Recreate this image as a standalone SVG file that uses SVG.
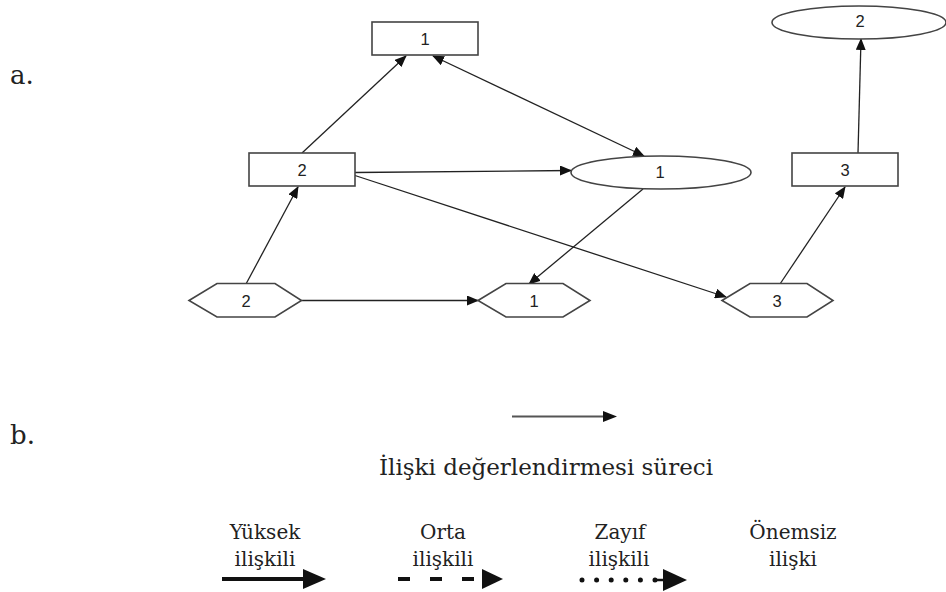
<svg xmlns="http://www.w3.org/2000/svg" width="946" height="592" viewBox="0 0 946 592">
<style>
.nd{fill:#fff;stroke:#444;stroke-width:1.6}
.nt{font-family:"Liberation Sans",Arial,sans-serif;font-size:16.5px;fill:#222;text-anchor:middle;dominant-baseline:central}
.ed{stroke:#222;stroke-width:1.3;fill:none}
.sf{font-family:"DejaVu Serif","Liberation Serif",serif;fill:#222}
.lg{font-size:20px;text-anchor:middle}
</style>
<defs>
<marker id="ah" markerUnits="userSpaceOnUse" markerWidth="12" markerHeight="10" refX="11" refY="5" orient="auto-start-reverse">
<path d="M0,0 L12,5 L0,10 z" fill="#111"/>
</marker>
</defs>
<rect width="946" height="592" fill="#fff"/>
<text class="sf" x="10" y="84" font-size="26">a.</text>
<text class="sf" x="10" y="444" font-size="26">b.</text>
<g id="connectors">
<line class="ed" x1="246" y1="284" x2="298" y2="187" marker-end="url(#ah)"/>
<line class="ed" x1="302" y1="153" x2="406" y2="56" marker-end="url(#ah)"/>
<line class="ed" x1="433" y1="56" x2="644" y2="156" marker-start="url(#ah)" marker-end="url(#ah)"/>
<line class="ed" x1="355" y1="172.5" x2="571" y2="170.5" marker-end="url(#ah)"/>
<line class="ed" x1="355" y1="175.5" x2="726" y2="297" marker-end="url(#ah)"/>
<line class="ed" x1="643" y1="189" x2="529" y2="284" marker-end="url(#ah)"/>
<line class="ed" x1="301.5" y1="300.5" x2="478" y2="300.5" marker-end="url(#ah)"/>
<line class="ed" x1="780" y1="284" x2="845" y2="187" marker-end="url(#ah)"/>
<line class="ed" x1="858" y1="153" x2="861" y2="39" marker-end="url(#ah)"/>
</g>
<g id="rect-1"><rect class="nd" x="372" y="22" width="106" height="33"/><text class="nt" x="425" y="38.5">1</text></g>
<g id="rect-2"><rect class="nd" x="249" y="153" width="106" height="33"/><text class="nt" x="302" y="169.5">2</text></g>
<g id="rect-3"><rect class="nd" x="792" y="153" width="106" height="33"/><text class="nt" x="845" y="169.5">3</text></g>
<g id="ellipse-1"><ellipse class="nd" cx="661" cy="172.5" rx="90" ry="16.5"/><text class="nt" x="660" y="172">1</text></g>
<g id="ellipse-2"><ellipse class="nd" cx="859" cy="22.5" rx="87" ry="16.5"/><text class="nt" x="860" y="21">2</text></g>
<g id="hex-2"><polygon class="nd" points="189,300.5 217,283.5 275,283.5 301.5,300.5 275,317 217,317"/><text class="nt" x="246" y="300.5">2</text></g>
<g id="hex-1"><polygon class="nd" points="478,300.5 506,283.5 563,283.5 590,300.5 563,317 506,317"/><text class="nt" x="534" y="300.5">1</text></g>
<g id="hex-3"><polygon class="nd" points="722,300.5 750,283.5 807,283.5 833,300.5 807,317 750,317"/><text class="nt" x="777" y="300.5">3</text></g>
<g id="legend">
<line x1="512" y1="416.5" x2="606" y2="416.5" stroke="#555" stroke-width="2"/>
<polygon points="603,411 617,416.5 603,422" fill="#111"/>
<text class="sf" x="546" y="475" font-size="23" text-anchor="middle">İlişki değerlendirmesi süreci</text>
<text class="sf lg" x="265" y="539">Yüksek</text>
<text class="sf lg" x="265" y="566">ilişkili</text>
<text class="sf lg" x="443" y="539">Orta</text>
<text class="sf lg" x="443" y="566">ilişkili</text>
<text class="sf lg" x="620" y="539">Zayıf</text>
<text class="sf lg" x="619" y="566">ilişkili</text>
<text class="sf lg" x="793" y="539">Önemsiz</text>
<text class="sf lg" x="793" y="566">ilişki</text>
<line x1="222" y1="579" x2="305" y2="579" stroke="#111" stroke-width="4"/>
<polygon points="303,569 326,579 303,589" fill="#111"/>
<line x1="398" y1="579" x2="484" y2="579" stroke="#111" stroke-width="4" stroke-dasharray="12 20"/>
<polygon points="482,569 503,579 482,589" fill="#111"/>
<line x1="582" y1="580" x2="660" y2="580" stroke="#111" stroke-width="5" stroke-linecap="round" stroke-dasharray="0 14.6"/>
<line x1="656" y1="580" x2="666" y2="580" stroke="#111" stroke-width="2.5"/>
<polygon points="663,569 687,580 663,591" fill="#111"/>
</g>
</svg>
